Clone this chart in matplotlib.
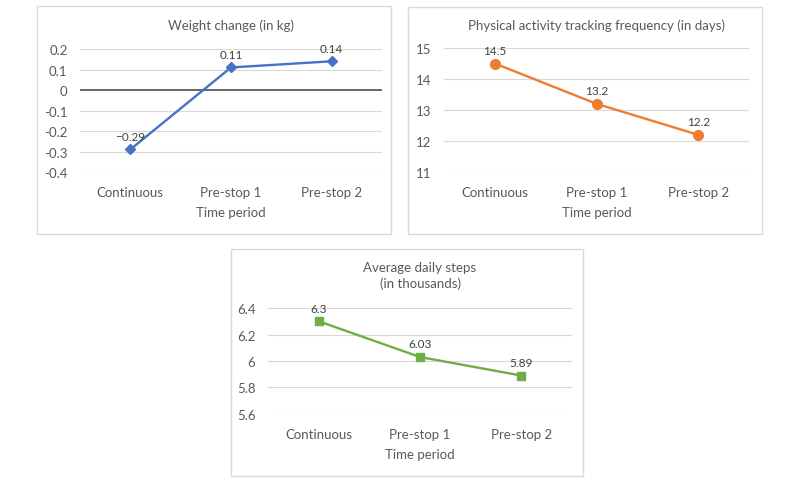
import matplotlib.pyplot as plt
from matplotlib.patches import Rectangle

periods = ["Continuous", "Pre-stop 1", "Pre-stop 2"]

weight = [-0.29, 0.11, 0.14]
weight_labels = ["\u22120.29", "0.11", "0.14"]
weight_ticks = [0.2, 0.1, 0, -0.1, -0.2, -0.3, -0.4]
weight_ticklabels = ["0.2", "0.1", "0", "-0.1", "-0.2", "-0.3", "-0.4"]

tracking = [14.5, 13.2, 12.2]
tracking_labels = ["14.5", "13.2", "12.2"]
tracking_ticks = [11, 12, 13, 14, 15]

steps = [6.3, 6.03, 5.89]
steps_labels = ["6.3", "6.03", "5.89"]
steps_ticks = [5.6, 5.8, 6.0, 6.2, 6.4]
steps_ticklabels = ["5.6", "5.8", "6", "6.2", "6.4"]

plt.rcParams['font.family'] = ['Lato', 'DejaVu Sans']
W, H = 800, 485
fig = plt.figure(figsize=(8, 4.85), dpi=100)

grey = "#595959"
gridc = "#D9D9D9"


def box(x0, y0, x1, y1):
    # chart frame in pixel coords (y from top)
    fig.patches.append(Rectangle((x0 / W, 1 - y1 / H), (x1 - x0) / W, (y1 - y0) / H,
                                 transform=fig.transFigure, fill=False,
                                 edgecolor=gridc, linewidth=1.0))


def panel(x0, x1, ytop, ybot, vals, labels, ticks, ticklabels, ylim, color, marker, msize,
          title, title_y, zero_line=False):
    ax = fig.add_axes([x0 / W, 1 - ybot / H, (x1 - x0) / W, (ybot - ytop) / H])
    ax.set_xlim(-0.5, 2.5)
    ax.set_ylim(*ylim)
    ax.set_yticks(ticks)
    ax.set_yticklabels(ticklabels)
    ax.set_xticks(range(len(periods)))
    ax.set_xticklabels(periods)
    for s in ax.spines.values():
        s.set_visible(False)
    ax.tick_params(length=0, colors=grey, labelsize=9.5)
    ax.tick_params(axis='y', pad=9)
    ax.tick_params(axis='x', pad=10)
    for t in ticks:
        if zero_line and t == 0:
            ax.axhline(t, color="#404040", linewidth=1.1, zorder=1)
        else:
            ax.axhline(t, color=gridc, linewidth=0.8, zorder=0)
    ax.plot(range(len(vals)), vals, color=color, linewidth=1.7, marker=marker,
            markersize=msize, zorder=3)
    for i, (v, lab) in enumerate(zip(vals, labels)):
        ax.annotate(lab, (i, v), xytext=(0, 9.5), textcoords="offset points",
                    ha="center", va="center", fontsize=8.5, color="#404040")
    ax.set_xlabel("Time period", color=grey, fontsize=9.5, labelpad=6)
    fig.text((x0 + x1) / 2 / W, 1 - title_y / H, title, ha="center", va="center",
             color=grey, fontsize=9.5, linespacing=1.4)
    return ax


box(37, 7, 391, 235)
panel(80, 382, 50, 173, weight, weight_labels, weight_ticks, weight_ticklabels,
      (-0.4, 0.2), "#4472C4", "D", 5.5, "Weight change (in kg)", 26, zero_line=True)

box(408, 8, 762, 235)
panel(444, 749, 49, 173, tracking, tracking_labels, tracking_ticks,
      [str(t) for t in tracking_ticks], (11, 15), "#ED7D31", "o", 7,
      "Physical activity tracking frequency (in days)", 26)

box(231, 250, 583, 477)
panel(268, 572, 309, 415, steps, steps_labels, steps_ticks, steps_ticklabels,
      (5.6, 6.4), "#70AD47", "s", 5.5, "Average daily steps\n(in thousands)", 276)

fig.savefig("out.png", dpi=100)
